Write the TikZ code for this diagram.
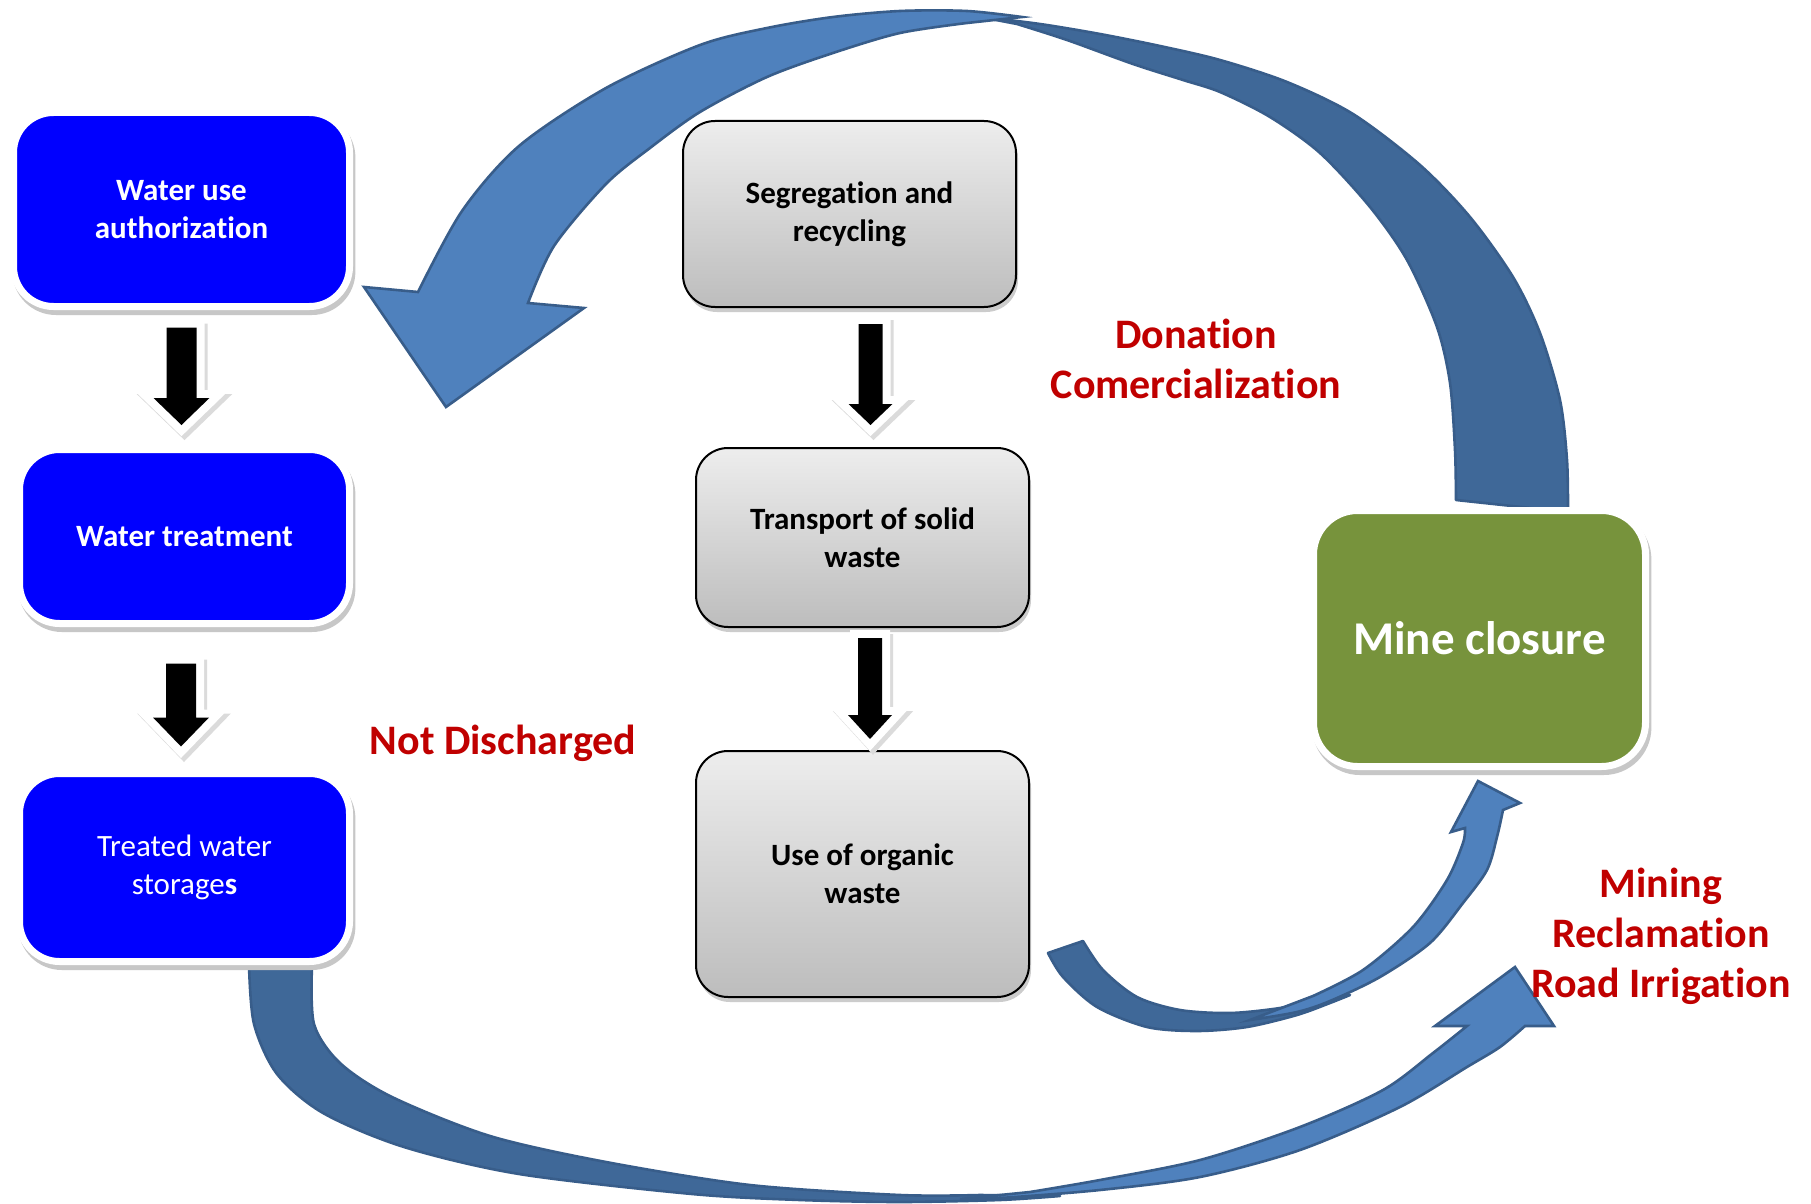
\documentclass[tikz,border=0pt]{standalone}
\usepackage{fontspec}
\setmainfont{Carlito}[Ligatures=NoCommon]
\usetikzlibrary{shadows,calc}
\definecolor{boxblue}{RGB}{0,0,255}
\definecolor{minegreen}{RGB}{119,147,60}
\definecolor{labred}{RGB}{192,0,0}
\definecolor{arrlight}{RGB}{79,129,189}
\definecolor{arrdark}{RGB}{63,104,152}
\definecolor{arredge}{RGB}{56,93,138}
\newcommand{\blkarrow}[5]{%
  \filldraw[black!14, line width=8pt, line join=miter] let \p1=(#1), \p2=(#2) in
    (\x1-#3+1.5pt,\y1-2pt) -- (\x1+#3+1.5pt,\y1-2pt) -- (\x1+#3+1.5pt,\y2+#5-2pt) -- (\x1+#4+1.5pt,\y2+#5-2pt) -- (\x1+1.5pt,\y2-2pt) -- (\x1-#4+1.5pt,\y2+#5-2pt) -- (\x1-#3+1.5pt,\y2+#5-2pt) -- cycle;
  \filldraw[white, line width=8pt, line join=miter] let \p1=(#1), \p2=(#2) in
    (\x1-#3,\y1) -- (\x1+#3,\y1) -- (\x1+#3,\y2+#5) -- (\x1+#4,\y2+#5) -- (\x1,\y2) -- (\x1-#4,\y2+#5) -- (\x1-#3,\y2+#5) -- cycle;
  \fill[black] let \p1=(#1), \p2=(#2) in
    (\x1-#3,\y1) -- (\x1+#3,\y1) -- (\x1+#3,\y2+#5) -- (\x1+#4,\y2+#5) -- (\x1,\y2) -- (\x1-#4,\y2+#5) -- (\x1-#3,\y2+#5) -- cycle;
}
\begin{document}
\begin{tikzpicture}[x=0.5pt,y=-0.5pt,
  bluebox/.style={rectangle, rounded corners=20pt, fill=boxblue, draw=white, line width=3.5pt,
    text=white, align=center, inner sep=0pt,
    drop shadow={shadow xshift=1.2pt, shadow yshift=-2.5pt, fill=black!22, draw=black!22, line width=3.5pt, opacity=1}},
  graybox/.style={rectangle, rounded corners=16pt, top color=black!7, bottom color=black!26,
    draw=black, line width=1pt, align=center, inner sep=0pt,
    font=\bfseries\fontsize{15.5}{19}\selectfont,
    drop shadow={shadow xshift=1pt, shadow yshift=-2.5pt, fill=black!20, opacity=1}},
  minebox/.style={rectangle, rounded corners=22pt, fill=minegreen, draw=white, line width=3.5pt,
    text=white, align=center, inner sep=0pt, font=\bfseries\fontsize{23.5}{28}\selectfont,
    drop shadow={shadow xshift=1.2pt, shadow yshift=-2.5pt, fill=black!22, draw=black!22, line width=3.5pt, opacity=1}},
  redlabel/.style={text=labred, align=center, inner sep=0pt, font=\bfseries\fontsize{21}{25}\selectfont},
  darkarr/.style={fill=arrdark, draw=arredge, line width=1.3pt, line join=round},
  lightarr/.style={fill=arrlight, draw=arredge, line width=1.3pt, line join=miter}
]
\fill[white] (0,0) rectangle (1811,1204);
\useasboundingbox (0,0) rectangle (1811,1204);

% top curved arrow (mine closure -> water use authorization)
\path[darkarr] plot[smooth] coordinates {(1568,512) (1567,460) (1560,400) (1540,333) (1513,277) (1470,217) (1420,165) (1353,114) (1287,82) (1220,60) (1160,46) (1100,34) (1040,24) (975,16)}
  -- plot[smooth] coordinates {(1017,24) (1067,40) (1133,64) (1183,80) (1220,92) (1270,117) (1320,153) (1370,207) (1407,260) (1437,327) (1450,383) (1455,450) (1456,500)} -- cycle;
\path[lightarr] (528,303) -- (584,308) -- (446,407) -- (364,287)
  -- plot[smooth] coordinates {(418,292) (462,211) (519,146) (606,88) (700,45) (767,28) (833,17) (900,11) (967,11) (1022,17)}
  -- plot[smooth] coordinates {(967,23) (900,33) (833,53) (767,77) (700,112) (650,148) (606,184) (554,246) (528,303)} -- cycle;

% bottom curved arrow (treated water storages -> mining / reclamation / road irrigation)
\path[darkarr] plot[smooth] coordinates {(249,965) (254,1024) (277,1074) (323,1113) (404,1147) (519,1174) (692,1194) (800,1200) (900,1202) (1000,1200) (1060,1196)}
  -- plot[smooth] coordinates {(980,1195) (900,1195) (750,1185) (606,1162) (490,1136) (392,1097) (340,1063) (314,1024) (312,965)} -- cycle;
\path[lightarr] (1467,1026) -- (1435,1026) -- (1515,967) -- (1554,1026)
  -- plot[smooth] coordinates {(1525,1026) (1500,1047) (1467,1067) (1400,1107) (1300,1150) (1200,1177) (1100,1190) (1000,1198) (960,1199)}
  -- plot[smooth] coordinates {(1030,1192) (1100,1180) (1200,1160) (1300,1127) (1383,1090) (1433,1053) (1467,1026)} -- cycle;

% small curved arrow (use of organic waste -> mine closure)
\path[darkarr] plot[smooth] coordinates {(1048,953) (1063,977) (1097,1007) (1147,1027) (1197,1031) (1247,1027) (1297,1015) (1330,1003) (1350,995)}
  -- plot[smooth] coordinates {(1320,999) (1280,1008) (1230,1013) (1180,1010) (1137,997) (1103,970) (1083,941)} -- cycle;
\path[lightarr] (1465,828) -- (1451,832) -- (1478,781) -- (1520,803)
  -- plot[smooth] coordinates {(1503,810) (1497,837) (1487,870) (1463,903) (1430,943) (1380,977) (1330,1001) (1297,1012) (1250,1020)}
  -- plot[smooth] coordinates {(1313,996) (1363,970) (1413,927) (1447,880) (1463,843) (1465,828)} -- cycle;

% boxes
\node[bluebox, minimum width=168pt, minimum height=97pt, font=\bfseries\fontsize{15.5}{19}\selectfont] (wua) at (181.5,209.5) {Water use\\authorization};
\node[bluebox, minimum width=165pt, minimum height=87pt, font=\bfseries\fontsize{15.5}{19}\selectfont] (wt) at (184.5,536.5) {Water treatment};
\node[bluebox, minimum width=165pt, minimum height=94pt, font=\fontsize{15.5}{19}\selectfont] (tws) at (184.5,867.5) {Treated water\\storage\textbf{s}};

\node[graybox, minimum width=166.5pt, minimum height=93pt] (seg) at (849.5,214) {Segregation and\\recycling};
\node[graybox, minimum width=166.5pt, minimum height=89.5pt] (trans) at (862.5,537.5) {Transport of solid\\waste};
\node[graybox, minimum width=166.5pt, minimum height=123pt] (org) at (862.5,874) {Use of organic\\waste};

\node[minebox, minimum width=166pt, minimum height=128pt] (mine) at (1479.5,638.5) {Mine closure};

% block arrows
\blkarrow{[yshift=-8.75pt]wua.south}{[yshift=10.5pt]wt.north}{7.5pt}{14pt}{13.5pt}
\blkarrow{[xshift=-1.75pt,yshift=-18.25pt]wt.south}{[yshift=11.75pt]tws.north}{7.5pt}{14pt}{14.5pt}
\blkarrow{[xshift=10.5pt,yshift=-8pt]seg.south}{[yshift=11pt]trans.north}{6pt}{11pt}{10.5pt}
\blkarrow{[xshift=3.75pt,yshift=-5pt]trans.south}{[yshift=5.5pt]org.north}{6pt}{11pt}{12pt}

% labels
\node[redlabel] (donation) at (1196,359) {Donation\\Comercialization};
\node[redlabel] (notdis) at (503,743) {Not Discharged};
\node[redlabel] (mining) at (1661,936) {Mining\\Reclamation\\Road Irrigation};
\end{tikzpicture}
\end{document}
